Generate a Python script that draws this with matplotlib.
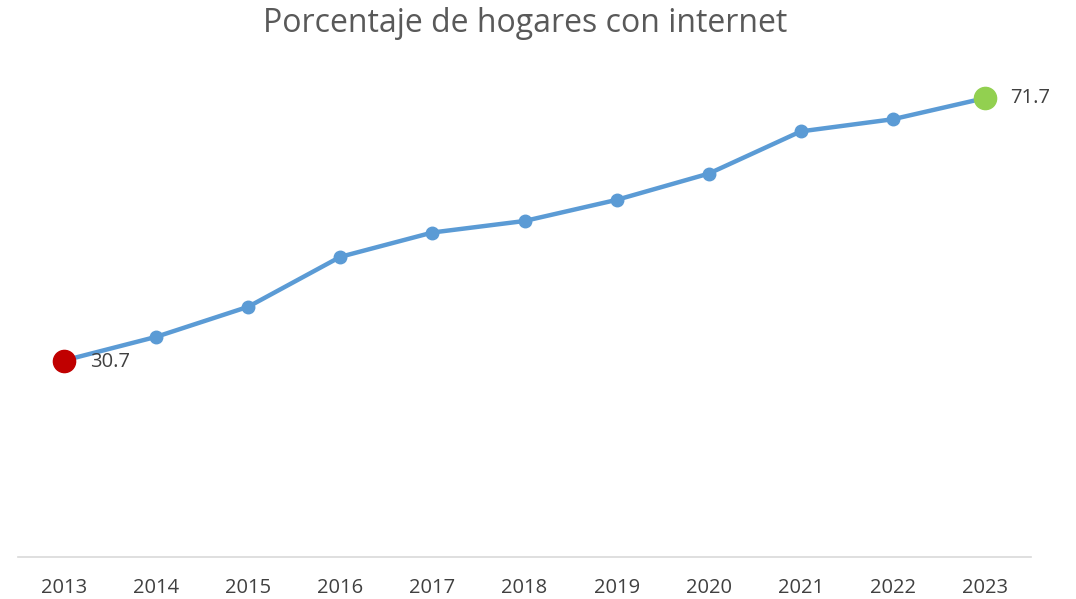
import matplotlib.pyplot as plt

# Data
years = ['2013', '2014', '2015', '2016', '2017', '2018', '2019', '2020', '2021', '2022', '2023']
values = [30.7, 34.4, 39.1, 46.9, 50.7, 52.5, 55.8, 59.9, 66.5, 68.4, 71.7]

plt.rcParams['font.family'] = ['Open Sans', 'DejaVu Sans']

fig = plt.figure(figsize=(10.76, 5.99), dpi=100)
ax = fig.add_axes([18 / 1076, 1 - 557 / 599, (1031 - 18) / 1076, (557 - 45) / 599])

x = list(range(len(years)))
ax.plot(x, values, color='#5B9BD5', lw=3.2, marker='o', ms=9,
        solid_capstyle='round', zorder=2)

# Highlight first and last points
ax.plot(x[0], values[0], 'o', color='#C00000', ms=16, zorder=3)
ax.plot(x[-1], values[-1], 'o', color='#92D050', ms=16, zorder=3)
ax.annotate(f'{values[0]}', (x[0], values[0]), xytext=(19, -1), textcoords='offset points',
            va='center', ha='left', fontsize=14.5, color='#404040')
ax.annotate(f'{values[-1]}', (x[-1], values[-1]), xytext=(18, 0), textcoords='offset points',
            va='center', ha='left', fontsize=14.5, color='#404040')

ax.set_xlim(-0.5, len(years) - 0.5)
ax.set_ylim(0, 80)
ax.set_xticks(x)
ax.set_xticklabels(years, fontsize=14.5, color='#404040')
ax.set_yticks([])
ax.tick_params(axis='x', length=0, pad=15)

for s in ['top', 'right', 'left']:
    ax.spines[s].set_visible(False)
ax.spines['bottom'].set_color('#D9D9D9')
ax.spines['bottom'].set_linewidth(1.2)

fig.text(525 / 1076, 1 - 24 / 599, 'Porcentaje de hogares con internet',
         ha='center', va='center', fontsize=23, color='#595959')

fig.savefig('out.png', dpi=100)
